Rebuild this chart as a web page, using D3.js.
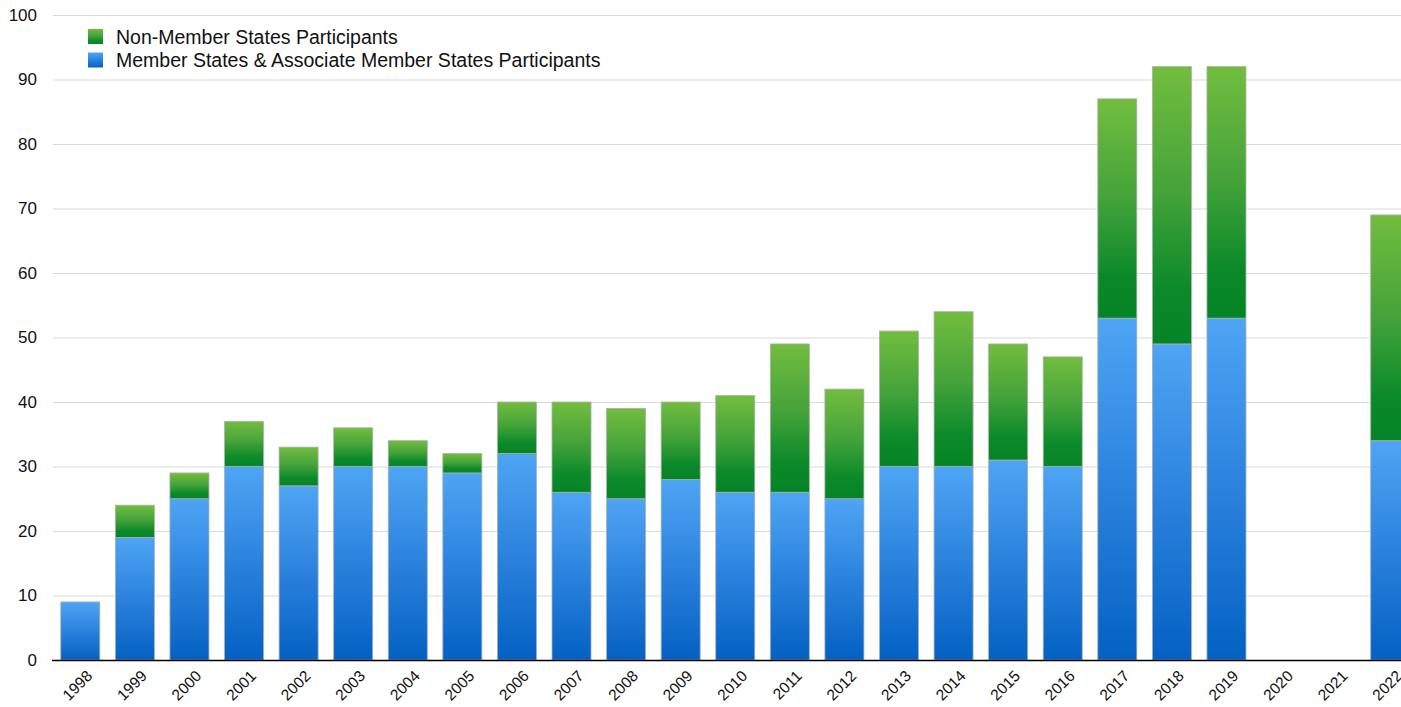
<!DOCTYPE html>
<html>
<head>
<meta charset="utf-8">
<script src="https://cdn.jsdelivr.net/npm/d3@7/dist/d3.min.js"></script>
<style>
  html, body { margin: 0; padding: 0; background: #fff; overflow: hidden; }
  svg { display: block; font-family: "Liberation Sans", Arial, Helvetica, sans-serif; }
</style>
</head>
<body>
<svg id="chart" width="1401" height="707"></svg>
<script>
// Participants per year
const years = ["1998","1999","2000","2001","2002","2003","2004","2005","2006","2007","2008","2009","2010","2011","2012","2013","2014","2015","2016","2017","2018","2019","2020","2021","2022"];
const memberStates = [9,19,25,30,27,30,30,29,32,26,25,28,26,26,25,30,30,31,30,53,49,53,0,0,34];
const nonMemberStates = [0,5,4,7,6,6,4,3,8,14,14,12,15,23,17,21,24,18,17,34,43,39,0,0,35];
const yTicks = [0,10,20,30,40,50,60,70,80,90,100];
const seriesNames = ["Non-Member States Participants", "Member States & Associate Member States Participants"];

const svg = d3.select("#chart");
const plotLeft = 53, plotTop = 15, plotBottom = 660;
const step = 54.58;

const x = d3.scaleBand()
  .domain(years)
  .range([plotLeft, plotLeft + step * years.length])
  .paddingInner(0.285)
  .paddingOuter(0.1425);

const y = d3.scaleLinear().domain([0, 100]).range([plotBottom, plotTop]);

// Gradients
const defs = svg.append("defs");
function grad(id, stops) {
  const g = defs.append("linearGradient").attr("id", id)
    .attr("x1", 0).attr("y1", 0).attr("x2", 0).attr("y2", 1);
  stops.forEach(s => g.append("stop").attr("offset", s[0]).attr("stop-color", s[1]));
}
grad("gBlue", [[0, "#4ea5f4"], [0.5, "#2b82dd"], [1, "#0461c2"]]);
grad("gGreen", [[0, "#72bd3f"], [0.45, "#45a33a"], [0.8, "#0c8a2a"], [1, "#058427"]]);

// Gridlines
svg.append("g").selectAll("line").data(yTicks.filter(d => d > 0)).join("line")
  .attr("x1", plotLeft).attr("x2", 1401)
  .attr("y1", d => y(d) + 0.5).attr("y2", d => y(d) + 0.5)
  .attr("stroke", "#d9d9d9").attr("stroke-width", 1);

// Y tick labels
svg.append("g").selectAll("text").data(yTicks).join("text")
  .attr("x", 37).attr("y", d => y(d))
  .attr("dy", "0.35em")
  .attr("text-anchor", "end")
  .attr("font-size", 17)
  .attr("fill", "#111")
  .text(d => d);

// Bars
const rows = years.map((yr, i) => ({ yr, m: memberStates[i], n: nonMemberStates[i] }));
const bars = svg.append("g");
bars.selectAll("rect.member").data(rows.filter(d => d.m > 0)).join("rect")
  .attr("class", "member")
  .attr("x", d => x(d.yr))
  .attr("width", x.bandwidth())
  .attr("y", d => y(d.m))
  .attr("height", d => y(0) - y(d.m))
  .attr("fill", "url(#gBlue)")
  .attr("stroke", "#a4b0bc").attr("stroke-width", 0.8);
bars.selectAll("rect.non").data(rows.filter(d => d.n > 0)).join("rect")
  .attr("class", "non")
  .attr("x", d => x(d.yr))
  .attr("width", x.bandwidth())
  .attr("y", d => y(d.m + d.n))
  .attr("height", d => y(d.m) - y(d.m + d.n))
  .attr("fill", "url(#gGreen)")
  .attr("stroke", "#aab3a6").attr("stroke-width", 0.8);

// Baseline
svg.append("line")
  .attr("x1", plotLeft - 1).attr("x2", 1401)
  .attr("y1", plotBottom + 0.5).attr("y2", plotBottom + 0.5)
  .attr("stroke", "#000").attr("stroke-width", 1.5);

// X tick labels
svg.append("g").selectAll("text").data(years).join("text")
  .attr("transform", d => `translate(${x(d) + x.bandwidth() / 2 + 13},${plotBottom + 17}) rotate(-45)`)
  .attr("text-anchor", "end")
  .attr("font-size", 15.5)
  .attr("fill", "#111")
  .text(d => d);

// Legend
const legend = svg.append("g");
const legendColors = ["url(#gGreen)", "url(#gBlue)"];
seriesNames.forEach((name, i) => {
  legend.append("rect")
    .attr("x", 88).attr("y", 29 + i * 23.5)
    .attr("width", 15).attr("height", 15)
    .attr("fill", legendColors[i]);
  legend.append("text")
    .attr("x", 116).attr("y", 37 + i * 23.5)
    .attr("dy", "0.35em")
    .attr("font-size", 19.5)
    .attr("fill", "#111")
    .text(name);
});
</script>
</body>
</html>
